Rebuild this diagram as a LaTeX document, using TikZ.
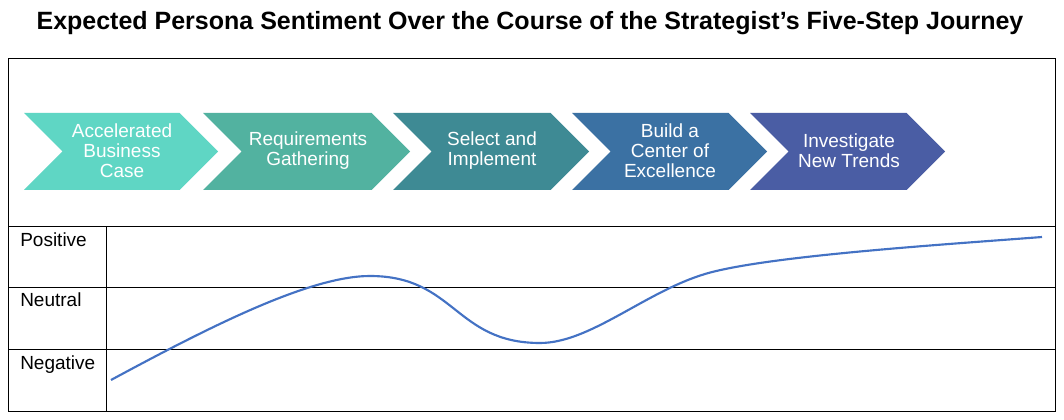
\documentclass[tikz,border=0pt]{standalone}
\usepackage{fontspec}
\setmainfont{Liberation Sans}
\definecolor{cA}{HTML}{5FD6C4}
\definecolor{cB}{HTML}{52B2A0}
\definecolor{cC}{HTML}{3E8A94}
\definecolor{cD}{HTML}{3B71A3}
\definecolor{cE}{HTML}{4A5DA4}
\definecolor{curveblue}{HTML}{4472C4}
\newcommand\mychev[3]{\fill[#3] (#1,113) -- ({#2-38.5},113) -- (#2,151.5) -- ({#2-38.5},190) -- (#1,190) -- ({#1+38.5},151.5) -- cycle;}
\tikzset{
  chevtext/.style={text=white, align=center, inner sep=0pt, font=\fontsize{14.25}{15}\selectfont},
  rowlabel/.style={anchor=base west, inner sep=0pt, font=\fontsize{14.25}{15}\selectfont},
  gridline/.style={draw=black, line width=0.75pt},
  sentiment/.style={draw=curveblue, line width=1.6pt}
}
\begin{document}
\begin{tikzpicture}[x=0.75pt, y=-0.75pt]
\useasboundingbox (0,0) rectangle (1064,420);
\fill[white] (0,0) rectangle (1064,420);
\node[anchor=base, inner sep=0pt, font=\fontsize{18.75}{22}\selectfont\bfseries] (title) at (530,30) {Expected Persona Sentiment Over the Course of the Strategist’s Five-Step Journey};
% frame
\draw[gridline] (8,59) rectangle (1055,411);
\draw[gridline] (8,227) -- (1055,227);
\draw[gridline] (8,288) -- (1055,288);
\draw[gridline] (8,350) -- (1055,350);
\draw[gridline] (106,227) -- (106,411);
% chevrons
\mychev{24}{218}{cA}
\mychev{203}{410}{cB}
\mychev{393}{589}{cC}
\mychev{572}{767}{cD}
\mychev{750}{945}{cE}
\node[chevtext] (s1) at (122,151) {Accelerated\\Business\\Case};
\node[chevtext] (s2) at (308,151) {Requirements\\Gathering};
\node[chevtext] (s3) at (492,151) {Select and\\Implement};
\node[chevtext] (s4) at (670,151) {Build a\\Center of\\Excellence};
\node[chevtext] (s5) at (849,151) {Investigate\\New Trends};
% row labels
\node[rowlabel] (lpos) at (20,247) {Positive};
\node[rowlabel] (lneu) at (20,307) {Neutral};
\node[rowlabel] (lneg) at (20,369) {Negative};
% sentiment curve
\draw[sentiment] (111,380) .. controls (211,326) and (310,276) .. (370,276)
  .. controls (455,276) and (455,343) .. (540,343)
  .. controls (590,343) and (645,292) .. (705,274)
  .. controls (765,256) and (942,244.7) .. (1042,237);
\end{tikzpicture}
\end{document}
